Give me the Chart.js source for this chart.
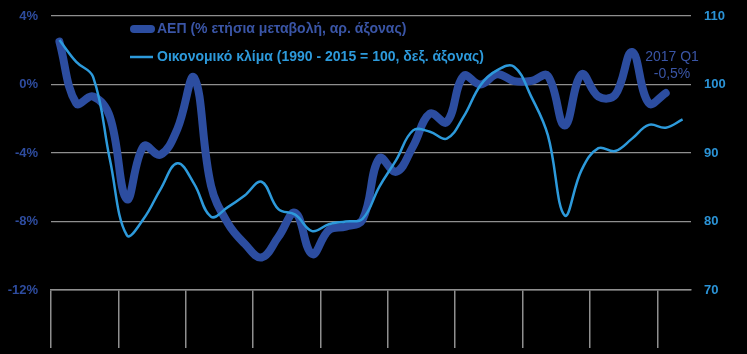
<!DOCTYPE html>
<html>
<head>
<meta charset="utf-8">
<script src="https://cdn.jsdelivr.net/npm/chart.js@4/dist/chart.umd.min.js"></script>
<style>
html,body{margin:0;padding:0;background:#000;}
#wrap{width:747px;height:354px;background:#000;}
</style>
</head>
<body>
<div id="wrap"><canvas id="c" width="747" height="354"></canvas></div>
<script>
// Quarterly categories 2008 Q1 - 2017 Q2
const quarters = [
  "2008 Q1","2008 Q2","2008 Q3","2008 Q4",
  "2009 Q1","2009 Q2","2009 Q3","2009 Q4",
  "2010 Q1","2010 Q2","2010 Q3","2010 Q4",
  "2011 Q1","2011 Q2","2011 Q3","2011 Q4",
  "2012 Q1","2012 Q2","2012 Q3","2012 Q4",
  "2013 Q1","2013 Q2","2013 Q3","2013 Q4",
  "2014 Q1","2014 Q2","2014 Q3","2014 Q4",
  "2015 Q1","2015 Q2","2015 Q3","2015 Q4",
  "2016 Q1","2016 Q2","2016 Q3","2016 Q4",
  "2017 Q1","2017 Q2"
];
// GDP, % annual change (left axis)
const gdpValues = [
  2.5, -1.1, -0.7, -1.9,
  -6.7, -3.6, -4.1, -2.6,
  0.4, -5.9, -8.1, -9.3,
  -10.1, -8.9, -7.5, -9.9,
  -8.5, -8.3, -7.9, -4.3,
  -5.1, -3.6, -1.7, -2.2,
  0.5, 0.0, 0.6, 0.2,
  0.2, 0.5, -2.4, 0.6,
  -0.7, -0.6, 1.9, -1.1,
  -0.5, null
];
// Economic climate index, 1990-2015 = 100 (right axis)
const climateValues = [
  106.5, 103.3, 101.1, 89.0,
  78.0, 80.4, 84.7, 88.5,
  85.5, 80.7, 82.1, 83.8,
  85.8, 81.8, 81.0, 78.6,
  79.6, 80.0, 80.4, 85.1,
  89.0, 93.3, 93.1, 92.1,
  95.3, 99.9, 102.1, 102.6,
  98.3, 92.6, 80.9, 87.5,
  90.7, 90.3, 92.1, 94.1,
  93.7, 94.9
];
const leftTicks = [-12, -8, -4, 0, 4];
const rightTicks = [70, 80, 90, 100, 110];
const seriesNames = [
  "ΑΕΠ (% ετήσια μεταβολή, αρ. άξονας)",
  "Οικονομικό κλίμα (1990 - 2015 = 100, δεξ. άξονας)"
];
const annotationIndex = 36;

const GDP_COLOR = '#2C4DA0';
const GDP_TEXT = '#3A55A6';
const CLIM_COLOR = '#2D9ADB';
const GRID = '#8f8f8f';
const FONT = '"Liberation Sans", Arial, sans-serif';

const overlay = {
  id: 'overlay',
  afterDatasetsDraw(chart) {
    const ctx = chart.ctx;
    ctx.save();
    // legend
    ctx.lineCap = 'round';
    ctx.strokeStyle = GDP_COLOR; ctx.lineWidth = 8;
    ctx.beginPath(); ctx.moveTo(134, 29); ctx.lineTo(151, 29); ctx.stroke();
    ctx.lineCap = 'butt';
    ctx.strokeStyle = CLIM_COLOR; ctx.lineWidth = 2.5;
    ctx.beginPath(); ctx.moveTo(130, 57); ctx.lineTo(153, 57); ctx.stroke();
    ctx.font = 'bold 14px ' + FONT;
    ctx.textBaseline = 'middle';
    ctx.textAlign = 'left';
    ctx.fillStyle = GDP_TEXT;
    ctx.fillText(seriesNames[0], 157, 29);
    ctx.fillStyle = CLIM_COLOR;
    ctx.fillText(seriesNames[1], 157, 57);
    // annotation for the last GDP point
    ctx.font = '14px ' + FONT;
    ctx.textAlign = 'center';
    ctx.fillStyle = GDP_TEXT;
    const v = gdpValues[annotationIndex];
    ctx.fillText(quarters[annotationIndex], 672, 57);
    ctx.fillText(v.toFixed(1).replace('.', ',') + '%', 672, 74);
    ctx.restore();
  }
};

new Chart(document.getElementById('c'), {
  type: 'line',
  data: {
    labels: quarters,
    datasets: [
      {
        label: seriesNames[0],
        data: gdpValues,
        yAxisID: 'yL',
        borderColor: GDP_COLOR,
        borderWidth: 8,
        pointRadius: 0,
        tension: 0.4,
        borderCapStyle: 'round',
        borderJoinStyle: 'round',
        fill: false,
        order: 1
      },
      {
        label: seriesNames[1],
        data: climateValues,
        yAxisID: 'yR',
        borderColor: CLIM_COLOR,
        borderWidth: 2.5,
        pointRadius: 0,
        tension: 0.4,
        fill: false,
        order: 0
      }
    ]
  },
  options: {
    responsive: false,
    animation: false,
    layout: { padding: { top: 16, bottom: 6, left: 0, right: 0 } },
    plugins: { legend: { display: false }, tooltip: { enabled: false } },
    scales: {
      x: {
        type: 'category',
        offset: true,
        grid: {
          display: true,
          offset: true,
          drawOnChartArea: false,
          drawTicks: true,
          tickLength: 58,
          lineWidth: 1.5,
          color: (c) => (c.index % 4 === 0 || c.index === quarters.length) ? GRID : 'rgba(0,0,0,0)'
        },
        border: { display: true, color: GRID, width: 1.5 },
        ticks: { display: false }
      },
      yL: {
        position: 'left',
        min: leftTicks[0],
        max: leftTicks[leftTicks.length - 1],
        afterBuildTicks: (s) => { s.ticks = leftTicks.map(v => ({ value: v })); },
        afterFit: (s) => { s.width = 51; s.paddingTop = 0; s.paddingBottom = 0; },
        grid: { color: GRID, lineWidth: 1.2, drawTicks: false },
        border: { display: false },
        ticks: {
          color: '#2E4C9F',
          font: { family: FONT, size: 13, weight: 'bold' },
          padding: 13,
          callback: (v) => v + '%'
        }
      },
      yR: {
        position: 'right',
        min: rightTicks[0],
        max: rightTicks[rightTicks.length - 1],
        afterBuildTicks: (s) => { s.ticks = rightTicks.map(v => ({ value: v })); },
        afterFit: (s) => { s.width = 56; s.paddingTop = 0; s.paddingBottom = 0; },
        grid: { display: false, drawTicks: false },
        border: { display: false },
        ticks: {
          color: '#2B93D6',
          font: { family: FONT, size: 13, weight: 'bold' },
          padding: 13
        }
      }
    }
  },
  plugins: [overlay]
});
</script>
</body>
</html>
